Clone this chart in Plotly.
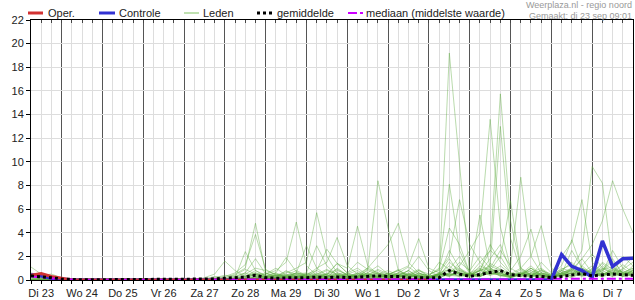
import plotly.graph_objects as go
import pandas as pd

# ---------------- data ----------------
start_time = "2025-09-23 06:00"
n_steps = 60
day_labels = ["Di 23", "Wo 24", "Do 25", "Vr 26", "Za 27", "Zo 28", "Ma 29",
              "Di 30", "Wo 1", "Do 2", "Vr 3", "Za 4", "Zo 5", "Ma 6", "Di 7"]
first_day = "2025-09-23"

oper = [0.4, 0.55, 0.3,
        0.15, 0, 0, 0,  0, 0, 0, 0,  0, 0, 0, 0,
        0, 0, 0, 0,  0, 0, 0, 0,  0, 0, 0, 0,  0, 0, 0, 0,
        0, 0, 0, 0,  0, 0, 0, 0,  0]

controle = [0.45, 0.35, 0.15,
            0.05, 0, 0, 0,  0, 0, 0, 0,  0, 0, 0, 0,
            0, 0, 0, 0,  0, 0, 0, 0,  0, 0, 0, 0,  0, 0, 0, 0,
            0, 0, 0, 0,  0, 0, 0, 0,  0, 0, 0, 0,  0, 0, 0, 0,
            0, 0, 0, 0,  0, 2.15, 1.15, 0.8,  0.25, 3.3, 1.15, 1.8,  1.85]

gemiddelde = [0.35, 0.3, 0.2,
              0.08, 0.03, 0.02, 0.02,  0.02, 0.02, 0.02, 0.02,  0.02, 0.02, 0.02, 0.02,
              0.03, 0.05, 0.08, 0.1,  0.15, 0.15, 0.25, 0.4,  0.2, 0.15, 0.2, 0.2,  0.2, 0.25, 0.2, 0.25,
              0.2, 0.25, 0.3, 0.35,  0.3, 0.3, 0.2, 0.2,  0.15, 0.2, 0.8, 0.5,  0.3, 0.45, 0.6, 0.8,
              0.45, 0.35, 0.3, 0.3,  0.2, 0.3, 0.4, 0.55,  0.35, 0.45, 0.5, 0.45,  0.4]

mediaan = [0.3, 0.25, 0.15,
           0.05, 0, 0, 0,  0, 0, 0, 0,  0, 0, 0, 0,
           0, 0, 0, 0,  0, 0, 0, 0,  0, 0, 0, 0,  0, 0, 0, 0,
           0, 0, 0, 0,  0, 0, 0, 0,  0, 0, 0, 0,  0, 0, 0, 0,
           0.05, 0.05, 0.05, 0.1,  0.1, 0.1, 0.1, 0.1,  0.1, 0.15, 0.1, 0.1,  0.1]

lid01 = [1.1, 0.5, 0.3,
         0.1, 0, 0, 0,  0, 0, 0, 0,  0, 0, 0, 0,
         0, 0, 0.2, 0.5,  1.6, 0.8, 0.3, 0.6,  0.4, 0.2, 0.8, 0.3,  0.2, 0.5, 0.9, 0.4,
         0.1, 0.3, 0.6, 1.2,  0.5, 0.3, 0.8, 0.2,  0.1, 0.4, 2.5, 1.0,  0.3, 1.2, 0.8, 2.0,
         0.6, 0.4, 1.0, 0.3,  0.1, 0.8, 1.5, 0.6,  0.4, 1.2, 0.5, 0.9,  1.5]
lid02 = [0.6, 0.4, 0.5,
         0.2, 0, 0, 0,  0, 0, 0, 0,  0, 0, 0, 0,
         0, 0, 0.1, 0.3,  0.2, 0.5, 1.0, 4.8,  0.6, 0.3, 0.2, 0.5,  0.3, 0.8, 0.4, 0.2,
         0.2, 0.6, 0.3, 0.5,  0.8, 0.4, 0.3, 0.6,  0.2, 0.3, 1.5, 0.8,  0.4, 5.5, 1.0, 0.6,
         0.3, 0.9, 0.4, 0.2,  0.3, 1.0, 0.7, 1.8,  0.6, 0.3, 1.1, 0.4,  0.8]
lid03 = [0.3, 0.6, 0.3,
         0.1, 0, 0, 0,  0, 0, 0, 0,  0, 0, 0, 0,
         0, 0, 0, 0.1,  0.3, 0.6, 1.3, 3.85,  0.9, 0.4, 0.3, 0.2,  0.6, 0.4, 0.2, 1.0,
         0.4, 0.2, 0.9, 0.5,  0.3, 0.2, 0.5, 0.9,  0.3, 0.6, 0.9, 2.0,  0.5, 0.8, 2.5, 1.8,
         6.7, 1.0, 0.4, 0.8,  0.2, 0.5, 2.5, 1.0,  0.5, 0.8, 1.6, 0.6,  1.0]
lid04 = [0.5, 0.3, 0.2,
         0, 0, 0, 0,  0, 0, 0, 0,  0, 0, 0, 0,
         0, 0, 0, 0,  0.1, 0.3, 0.6, 1.8,  0.5, 1.0, 0.4, 0.8,  0.4, 0.2, 0.6, 0.3,
         0.6, 1.0, 0.4, 0.3,  0.2, 0.6, 1.1, 0.5,  0.4, 0.9, 4.4, 3.0,  0.6, 0.3, 1.4, 0.9,
         0.2, 0.5, 1.2, 0.4,  0.3, 0.6, 0.3, 1.2,  2.2, 1.0, 0.6, 1.3,  0.6]
lid05 = [0.2, 0.4, 0.2,
         0, 0, 0, 0,  0, 0, 0, 0,  0, 0, 0, 0,
         0, 0, 0, 0,  0, 0.2, 2.4, 0.8,  0.3, 0.6, 0.2, 0.4,  0.2, 0.3, 0.5, 0.2,
         0.5, 0.3, 0.6, 0.2,  0.4, 0.9, 0.3, 0.4,  0.2, 0.5, 1.2, 0.4,  0.3, 0.8, 1.0, 2.5,
         1.2, 8.7, 2.0, 0.6,  0.4, 0.9, 1.3, 0.5,  0.8, 0.3, 0.5, 2.0,  1.2]
lid06 = [0.4, 0.2, 0.1,
         0, 0, 0, 0,  0, 0, 0, 0,  0, 0, 0, 0,
         0, 0, 0, 0.2,  0.4, 0.3, 0.6, 0.3,  0.5, 0.8, 1.5, 4.9,  1.2, 0.4, 0.2, 0.5,
         0.3, 0.2, 0.4, 0.8,  0.3, 0.5, 0.2, 0.6,  0.3, 0.4, 0.8, 0.6,  0.2, 0.6, 1.8, 3.0,
         0.8, 2.0, 4.3, 0.9,  0.3, 0.6, 1.0, 0.4,  1.0, 0.5, 0.8, 0.3,  0.5]
lid07 = [0.3, 0.2, 0.1,
         0, 0, 0, 0,  0, 0, 0, 0,  0, 0, 0, 0,
         0, 0, 0, 0,  0.2, 0.4, 0.9, 0.5,  0.2, 0.3, 0.6, 1.0,  1.5, 5.7, 2.0, 0.6,
         0.4, 0.2, 0.5, 0.3,  0.6, 0.3, 0.2, 0.4,  0.2, 0.5, 0.3, 0.9,  0.4, 0.3, 0.6, 1.2,
         0.5, 1.0, 2.0, 4.6,  1.0, 0.4, 0.8, 0.5,  0.6, 1.5, 0.9, 0.4,  0.8]
lid08 = [0.2, 0.1, 0.1,
         0, 0, 0, 0,  0, 0, 0, 0,  0, 0, 0, 0,
         0, 0, 0, 0,  0.1, 0.2, 0.5, 1.0,  0.8, 0.5, 0.3, 0.6,  2.9, 1.0, 0.4, 0.2,
         0.5, 0.8, 0.3, 0.2,  0.4, 0.3, 0.5, 0.3,  0.1, 0.6, 1.8, 0.5,  0.3, 0.5, 0.9, 0.4,
         0.2, 0.6, 0.3, 1.5,  0.6, 2.0, 3.2, 6.8,  1.5, 0.6, 0.4, 0.8,  0.3]
lid09 = [0.1, 0.2, 0.1,
         0, 0, 0, 0,  0, 0, 0, 0,  0, 0, 0, 0,
         0, 0, 0, 0,  0, 0.1, 0.4, 0.6,  0.3, 0.4, 0.7, 0.5,  0.6, 2.9, 1.2, 0.4,
         0.3, 0.5, 1.0, 0.6,  0.2, 0.4, 0.8, 0.3,  0.2, 0.3, 0.6, 1.0,  0.5, 0.4, 0.9, 0.6,
         0.3, 0.5, 0.8, 0.4,  0.2, 0.5, 1.0, 2.5,  9.6, 8.2, 1.2, 0.6,  1.0]
lid10 = [0.2, 0.1, 0,
         0, 0, 0, 0,  0, 0, 0, 0,  0, 0, 0, 0,
         0, 0, 0, 0,  0, 0.2, 0.3, 0.8,  0.4, 0.6, 1.9, 0.7,  0.3, 0.2, 0.5, 0.9,
         0.4, 0.3, 0.6, 0.2,  0.5, 0.3, 0.4, 0.8,  0.3, 0.2, 0.5, 0.4,  0.6, 1.0, 0.5, 0.8,
         0.3, 0.4, 1.0, 0.5,  0.2, 0.4, 0.9, 1.8,  3.0, 5.0, 8.4, 6.0,  4.0]
lid11 = [0.1, 0.1, 0,
         0, 0, 0, 0,  0, 0, 0, 0,  0, 0, 0, 0,
         0, 0, 0, 0,  0, 0.1, 0.3, 0.5,  0.2, 0.4, 0.3, 0.6,  0.4, 1.0, 1.5, 3.6,
         1.2, 0.5, 0.3, 0.6,  0.4, 0.8, 0.3, 0.2,  0.3, 0.5, 0.4, 0.7,  0.3, 0.6, 0.4, 0.9,
         0.5, 0.3, 0.6, 1.0,  0.4, 1.2, 3.4, 1.0,  0.6, 0.9, 1.8, 0.5,  0.7]
lid12 = [0, 0.1, 0,
         0, 0, 0, 0,  0, 0, 0, 0,  0, 0, 0, 0,
         0, 0, 0, 0,  0, 0, 0.2, 0.4,  0.6, 0.2, 0.4, 0.3,  0.5, 0.8, 2.6, 1.4,
         0.6, 0.3, 0.8, 0.4,  0.3, 0.6, 0.5, 0.3,  0.2, 0.4, 0.6, 0.3,  0.4, 0.8, 0.5, 0.6,
         0.3, 0.6, 0.4, 0.8,  0.5, 0.3, 0.9, 0.6,  1.2, 0.6, 2.5, 1.0,  2.0]
lid13 = [0, 0, 0,
         0, 0, 0, 0,  0, 0, 0, 0,  0, 0, 0, 0,
         0, 0, 0, 0,  0, 0.1, 0.3, 0.4,  0.3, 0.5, 0.4, 0.2,  0.3, 0.5, 0.4, 1.4,
         0.6, 1.5, 0.9, 8.4,  4.4, 0.8, 0.4, 0.3,  0.2, 0.5, 0.3, 0.6,  0.4, 0.3, 0.7, 0.4,
         0.3, 0.6, 0.4, 0.5,  0.3, 0.8, 0.5, 0.4,  0.6, 0.4, 1.0, 0.5,  0.6]
lid14 = [0, 0, 0,
         0, 0, 0, 0,  0, 0, 0, 0,  0, 0, 0, 0,
         0, 0, 0, 0,  0, 0, 0.2, 0.5,  0.3, 0.4, 0.2, 0.6,  0.3, 0.2, 0.5, 1.4,
         1.0, 4.55, 1.2, 0.5,  0.3, 0.6, 0.4, 0.2,  0.3, 0.5, 0.9, 0.6,  0.4, 0.3, 0.8, 0.5,
         0.4, 0.6, 0.3, 0.9,  0.3, 0.6, 0.4, 1.0,  0.5, 1.4, 0.6, 0.3,  0.9]
lid15 = [0, 0, 0,
         0, 0, 0, 0,  0, 0, 0, 0,  0, 0, 0, 0,
         0, 0, 0, 0,  0, 0, 0.1, 0.3,  0.2, 0.3, 0.5, 0.3,  0.4, 0.6, 0.3, 0.8,
         0.5, 0.3, 1.0, 2.0,  3.0, 4.8, 1.5, 0.6,  0.3, 0.5, 0.4, 0.8,  0.5, 0.9, 0.4, 0.6,
         0.2, 0.5, 1.0, 0.4,  0.3, 0.8, 0.5, 1.2,  0.5, 0.9, 1.1, 0.6,  0.4]
lid16 = [0, 0, 0,
         0, 0, 0, 0,  0, 0, 0, 0,  0, 0, 0, 0,
         0, 0, 0, 0,  0, 0, 0.2, 0.2,  0.3, 0.2, 0.4, 0.5,  0.3, 0.4, 0.8, 0.5,
         0.3, 0.6, 0.4, 0.9,  0.5, 0.8, 1.2, 3.5,  1.0, 0.6, 0.4, 0.3,  0.6, 0.4, 1.2, 0.8,
         0.5, 0.3, 0.6, 0.4,  0.2, 0.5, 0.9, 0.6,  0.4, 0.6, 0.3, 1.0,  0.5]
lid17 = [0, 0, 0,
         0, 0, 0, 0,  0, 0, 0, 0,  0, 0, 0, 0,
         0, 0, 0, 0,  0, 0, 0, 0.3,  0.2, 0.4, 0.3, 0.2,  0.5, 0.3, 0.2, 0.6,
         0.4, 0.2, 0.5, 0.3,  0.6, 0.4, 0.8, 2.0,  0.8, 0.3, 0.5, 1.5,  0.8, 2.0, 1.0, 0.5,
         0.3, 0.7, 0.4, 0.2,  0.4, 0.3, 0.6, 0.8,  0.3, 0.5, 0.8, 0.6,  0.3]
lid18 = [0, 0, 0,
         0, 0, 0, 0,  0, 0, 0, 0,  0, 0, 0, 0,
         0, 0, 0, 0,  0, 0, 0, 0.2,  0.1, 0.2, 0.3, 0.2,  0.2, 0.3, 0.1, 0.4,
         0.2, 0.3, 0.2, 0.4,  0.3, 0.2, 0.5, 0.3,  0.2, 0.3, 19.2, 9.5,  0.4, 0.3, 0.6, 0.4,
         0.2, 0.4, 0.3, 0.5,  0.3, 0.4, 0.2, 0.6,  0.3, 0.8, 0.4, 0.5,  0.3]
lid19 = [0, 0, 0,
         0, 0, 0, 0,  0, 0, 0, 0,  0, 0, 0, 0,
         0, 0, 0, 0,  0, 0, 0, 0.1,  0.2, 0.1, 0.3, 0.4,  0.2, 0.4, 0.3, 0.2,
         0.3, 0.2, 0.4, 0.6,  0.4, 0.3, 0.2, 0.5,  0.4, 1.0, 8.1, 2.5,  0.6, 0.4, 0.8, 0.3,
         0.5, 0.3, 0.6, 0.4,  0.2, 0.6, 0.8, 0.5,  0.9, 0.4, 0.6, 0.5,  0.8]
lid20 = [0, 0, 0,
         0, 0, 0, 0,  0, 0, 0, 0,  0, 0, 0, 0,
         0, 0, 0, 0,  0, 0, 0.1, 0.2,  0.3, 0.2, 0.2, 0.3,  0.4, 0.2, 0.3, 0.5,
         0.3, 0.4, 0.2, 0.3,  0.2, 0.5, 0.3, 0.8,  0.5, 0.8, 2.0, 6.8,  3.0, 1.5, 0.6, 0.4,
         0.3, 0.5, 0.2, 0.6,  0.4, 0.3, 0.7, 0.4,  0.6, 1.0, 0.5, 0.4,  1.2]
lid21 = [0, 0, 0,
         0, 0, 0, 0,  0, 0, 0, 0,  0, 0, 0, 0,
         0, 0, 0, 0,  0, 0, 0, 0,  0.1, 0.2, 0.1, 0.2,  0.3, 0.2, 0.4, 0.2,
         0.3, 0.5, 0.3, 0.2,  0.4, 0.3, 0.6, 0.4,  0.3, 1.5, 0.9, 0.5,  0.4, 0.8, 3.0, 1.5,
         0.6, 0.4, 0.8, 0.3,  0.2, 0.4, 0.6, 0.3,  0.5, 0.3, 0.9, 0.7,  0.4]
lid22 = [0, 0, 0,
         0, 0, 0, 0,  0, 0, 0, 0,  0, 0, 0, 0,
         0, 0, 0, 0,  0, 0, 0, 0.1,  0.2, 0.1, 0.2, 0.3,  0.2, 0.3, 0.2, 0.4,
         0.3, 0.2, 0.3, 0.4,  0.2, 0.4, 0.3, 0.2,  0.3, 0.4, 0.6, 1.2,  2.5, 4.0, 13.6, 4.5,
         1.0, 0.5, 0.3, 0.6,  0.3, 0.5, 0.4, 0.8,  0.4, 0.6, 0.3, 0.5,  0.6]
lid23 = [0, 0, 0,
         0, 0, 0, 0,  0, 0, 0, 0,  0, 0, 0, 0,
         0, 0, 0, 0,  0, 0, 0, 0,  0.1, 0.2, 0.2, 0.1,  0.3, 0.2, 0.3, 0.2,
         0.2, 0.4, 0.3, 0.2,  0.3, 0.2, 0.4, 0.3,  0.2, 0.5, 0.4, 0.6,  0.5, 1.5, 2.5, 15.75,
         5.0, 1.0, 0.5, 0.3,  0.4, 0.6, 0.3, 0.5,  0.7, 0.4, 0.6, 0.3,  0.5]
lid24 = [0, 0, 0,
         0, 0, 0, 0,  0, 0, 0, 0,  0, 0, 0, 0,
         0, 0, 0, 0,  0, 0, 0, 0.1,  0.1, 0.1, 0.2, 0.2,  0.2, 0.1, 0.2, 0.3,
         0.2, 0.3, 0.2, 0.3,  0.2, 0.3, 0.2, 0.4,  0.3, 0.2, 0.5, 0.4,  0.4, 0.8, 1.2, 13.0,
         3.5, 0.8, 0.4, 0.6,  0.3, 0.4, 0.6, 0.4,  0.5, 0.3, 0.7, 0.4,  0.6]

leden = [lid01, lid02, lid03, lid04, lid05, lid06, lid07, lid08, lid09, lid10, lid11, lid12,
         lid13, lid14, lid15, lid16, lid17, lid18, lid19, lid20, lid21, lid22, lid23, lid24]

for s in leden + [controle, gemiddelde, mediaan]:
    if len(s) != n_steps:
        raise ValueError("series length %d" % len(s))

# ---------------- figure ----------------
times = pd.date_range(start_time, periods=n_steps, freq="6h")
noons = pd.date_range(first_day + " 12:00", periods=len(day_labels), freq="D")
midnights = pd.date_range(first_day, periods=len(day_labels) + 1, freq="D")[1:len(day_labels)]

W, H = 635, 300
ML, MR, MT, MB = 31, 2, 20, 20
PW, PH = W - ML - MR, H - MT - MB

def px(xp):
    return (xp - ML) / PW

def py(yp):
    return (H - MB - yp) / PH

FONT = "Liberation Sans, Arial, sans-serif"
RED = "rgb(210,50,50)"
BLUE = "rgb(50,50,210)"
GREEN = "rgba(90,170,60,0.42)"
MAGENTA = "rgb(204,0,255)"

fig = go.Figure()
for lid in leden:
    fig.add_trace(go.Scatter(x=times, y=lid, mode="lines", line=dict(color=GREEN, width=1),
                             showlegend=False, hoverinfo="skip"))
fig.add_trace(go.Scatter(x=times, y=mediaan, mode="lines", xaxis="x2",
                         line=dict(color=MAGENTA, width=2, dash="dashdot"), showlegend=False))
fig.add_trace(go.Scatter(x=times, y=gemiddelde, mode="lines", xaxis="x3",
                         line=dict(color="black", width=3, dash="dot"), showlegend=False))
fig.add_trace(go.Scatter(x=times, y=controle, mode="lines",
                         line=dict(color=BLUE, width=3.5), showlegend=False))
fig.add_trace(go.Scatter(x=times[:len(oper)], y=oper, mode="lines",
                         line=dict(color=RED, width=3), showlegend=False))

shapes = []
# legend (manual)
leg_y = py(13)
legend_items = [
    (28, 43, RED, 3, "solid", "Oper.", 47),
    (99, 115, BLUE, 3, "solid", "Controle", 118),
    (184, 199, "rgb(170,215,150)", 1.5, "solid", "Leden", 202),
    (257, 272, "black", 3, "dot", "gemiddelde", 276),
    (348, 363, MAGENTA, 2, "dashdot", "mediaan (middelste waarde)", 365),
]
annotations = []
for x0, x1, col, w, dash, label, tx in legend_items:
    shapes.append(dict(type="line", xref="paper", yref="paper", x0=px(x0), x1=px(x1),
                       y0=leg_y, y1=leg_y, line=dict(color=col, width=w, dash=dash)))
    annotations.append(dict(xref="paper", yref="paper", x=px(tx), y=leg_y, text=label,
                            showarrow=False, xanchor="left", yanchor="middle",
                            font=dict(family=FONT, size=11, color="#222222"), borderpad=0))

annotations.append(dict(xref="paper", yref="paper", x=1.0, y=py(5), text="Weerplaza.nl - regio noord",
                        showarrow=False, xanchor="right", yanchor="middle", borderpad=0,
                        font=dict(family=FONT, size=9, color="#999999")))
annotations.append(dict(xref="paper", yref="paper", x=1.0, y=py(15.5), text="Gemaakt: di 23 sep 09:01",
                        showarrow=False, xanchor="right", yanchor="middle", borderpad=0,
                        font=dict(family=FONT, size=9, color="#999999")))

x_range = [times[0], times[-1]]
six_h = 6 * 3600 * 1000

fig.update_layout(
    width=W, height=H,
    margin=dict(l=ML, r=MR, t=MT, b=MB, pad=0),
    plot_bgcolor="white", paper_bgcolor="white",
    font=dict(family=FONT, size=11, color="#222222"),
    showlegend=False,
    shapes=shapes, annotations=annotations,
    # main bottom axis: dark day separators + 6-hourly light grid and ticks
    xaxis=dict(type="date", range=x_range, tickmode="array", tickvals=list(midnights),
               ticktext=[""] * len(midnights), showticklabels=False,
               ticks="outside", ticklen=3, tickcolor="black", showgrid=True, gridcolor="#555555",
               gridwidth=1, showline=True, linecolor="black", linewidth=1, zeroline=False,
               minor=dict(tick0=first_day, dtick=six_h, ticks="outside", ticklen=3,
                          tickcolor="black", showgrid=True, gridcolor="#dddddd")),
    # top frame with inward ticks
    xaxis2=dict(type="date", overlaying="x", side="top", matches="x", showticklabels=False,
                tickmode="linear", tick0=first_day, dtick=six_h, ticks="inside", ticklen=3,
                tickcolor="#444444", showline=True, linecolor="black", linewidth=1,
                showgrid=False, zeroline=False),
    # day labels at noon
    xaxis3=dict(type="date", overlaying="x", side="bottom", matches="x", tickmode="array",
                tickvals=list(noons), ticktext=day_labels, ticks="outside", ticklen=3,
                tickcolor="rgba(0,0,0,0)", showgrid=False, showline=False, zeroline=False,
                tickfont=dict(family=FONT, size=11, color="#222222")),
    yaxis=dict(range=[0, 22], dtick=2, tick0=0, ticks="outside", ticklen=4, tickcolor="black",
               showgrid=True, gridcolor="#dddddd", showline=True, linecolor="black", linewidth=1,
               mirror=True, zeroline=False,
               tickfont=dict(family=FONT, size=11, color="#222222")),
)

fig.write_html("out.html")
